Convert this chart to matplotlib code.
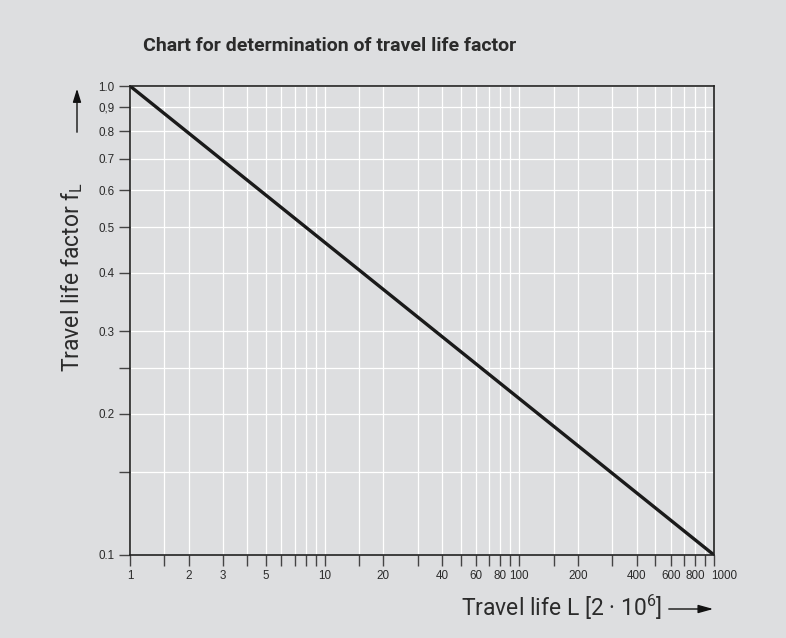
import matplotlib
matplotlib.use("Agg")
import matplotlib.pyplot as plt
import matplotlib.transforms as mtransforms
from matplotlib.ticker import FixedLocator, NullLocator

# values
travel_life = [1, 1000]
life_factor = [1.0, 0.1]

x_ticks = [1, 1.5, 2, 3, 4, 5, 6, 7, 8, 9, 10, 15, 20, 30, 40, 50, 60, 70, 80, 90,
           100, 150, 200, 300, 400, 500, 600, 700, 800, 900, 1000]
x_labeled = {1: "1", 2: "2", 3: "3", 5: "5", 10: "10", 20: "20", 40: "40", 60: "60",
             80: "80", 100: "100", 200: "200", 400: "400", 600: "600", 800: "800", 1000: "1000"}
y_ticks = [0.1, 0.15, 0.2, 0.25, 0.3, 0.4, 0.5, 0.6, 0.7, 0.8, 0.9, 1.0]
y_labeled = {0.1: "0.1", 0.2: "0.2", 0.3: "0.3", 0.4: "0.4", 0.5: "0.5", 0.6: "0.6",
             0.7: "0.7", 0.8: "0.8", 0.9: "0,9", 1.0: "1.0"}

bg = "#dddee0"
txt = "#2b2b2b"
label_font = ["Roboto", "DejaVu Sans"]

fig = plt.figure(figsize=(7.86, 6.38), dpi=100, facecolor=bg)
ax = fig.add_axes([0.1654, 0.1301, 0.743, 0.7351], facecolor=bg)

ax.set_xscale("log")
ax.set_yscale("log")
ax.set_xlim(1, 1000)
ax.set_ylim(0.1, 1.0)

ax.xaxis.set_major_locator(FixedLocator(x_ticks))
ax.xaxis.set_minor_locator(NullLocator())
ax.yaxis.set_major_locator(FixedLocator(y_ticks))
ax.yaxis.set_minor_locator(NullLocator())
ax.set_xticklabels([x_labeled.get(v, "") for v in x_ticks])
ax.set_yticklabels([y_labeled.get(v, "") for v in y_ticks])

ax.grid(True, color="white", linewidth=0.9)
ax.set_axisbelow(True)
ax.tick_params(axis="both", direction="out", length=8, width=1.0, color="#444444",
               labelsize=8.4, labelcolor=txt, pad=3)
for lab in ax.get_xticklabels() + ax.get_yticklabels():
    lab.set_family("Liberation Sans")
# last x label sits a little to the right of its tick, as in the original
last = ax.get_xticklabels()[-1]
last.set_transform(last.get_transform() +
                   mtransforms.ScaledTranslation(10 / 100, 0, fig.dpi_scale_trans))
for s in ax.spines.values():
    s.set_color("#222222")
    s.set_linewidth(1.2)

ax.plot(travel_life, life_factor, color="#1a1a1a", linewidth=2.4, solid_capstyle="butt")

fig.text(330 / 786, 1 - 46 / 638, "Chart for determination of travel life factor",
         ha="center", va="center", fontsize=14, fontweight="bold", color=txt,
         family=label_font)

fig.text(72 / 786, 1 - 277 / 638, "Travel life factor f$_\\mathregular{L}$",
         rotation=90, ha="center", va="center", fontsize=16.5, color=txt,
         family=label_font)
fig.text(562 / 786, 1 - 607 / 638, "Travel life L [2 \u00b7 10$^\\mathregular{6}$]",
         ha="center", va="center", fontsize=16.5, color=txt,
         family=label_font)

fig.patches.append(matplotlib.patches.FancyArrowPatch(
    (77 / 786, 1 - 135 / 638), (77 / 786, 1 - 86 / 638), transform=fig.transFigure,
    arrowstyle="-|>,head_length=8,head_width=2.5", color="#111111", linewidth=1.0))
fig.patches.append(matplotlib.patches.FancyArrowPatch(
    (666 / 786, 1 - 609 / 638), (716 / 786, 1 - 609 / 638), transform=fig.transFigure,
    arrowstyle="-|>,head_length=9,head_width=2.5", color="#111111", linewidth=1.0))

fig.savefig("out.png", dpi=100, facecolor=bg)
